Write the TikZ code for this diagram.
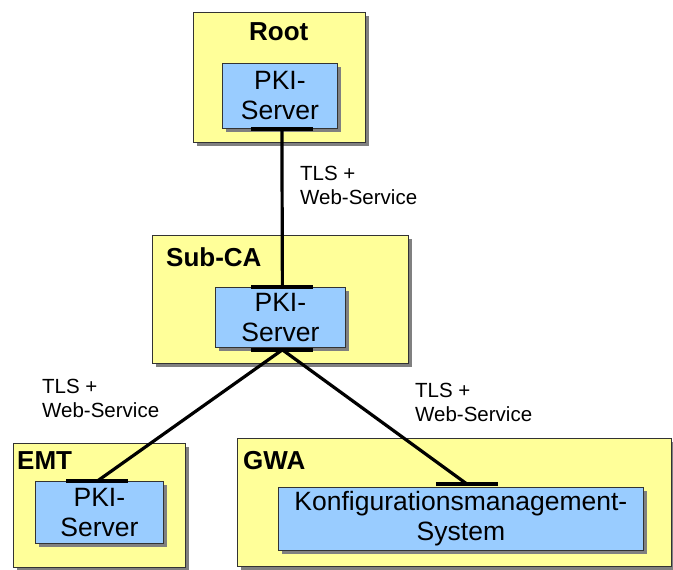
\documentclass[tikz,border=0pt]{standalone}
\usepackage{fontspec}
\setmainfont{Liberation Sans}
\usetikzlibrary{shadows,calc}
\definecolor{zoneyellow}{RGB}{255,255,153}
\definecolor{srvblue}{RGB}{153,204,255}
\definecolor{shadowgray}{RGB}{128,128,128}
\tikzset{
  zone/.style={draw=black!80, line width=0.8pt, fill=zoneyellow, anchor=north west,
    inner sep=0pt, drop shadow={shadow xshift=3.5pt, shadow yshift=-3.5pt, fill=shadowgray, opacity=1}},
  server/.style={draw=black!80, line width=0.8pt, fill=srvblue, anchor=north west,
    inner sep=0pt, align=center, font=\fontsize{26.5}{30}\selectfont,
    drop shadow={shadow xshift=3.5pt, shadow yshift=-3.5pt, fill=shadowgray, opacity=1}},
  zonetitle/.style={font=\fontsize{26}{30}\selectfont\bfseries, anchor=base west, inner sep=0pt},
  linklabel/.style={font=\fontsize{20.5}{24}\selectfont, align=left, anchor=north west, inner sep=0pt},
  bar/.style={line width=4pt},
  link/.style={line width=3.2pt},
}
\begin{document}
\begin{tikzpicture}[x=1pt, y=-1pt]
\useasboundingbox[fill=white] (0,0) rectangle (673,570);

% zones
\node[zone, minimum width=172pt, minimum height=130pt] (rootzone) at (193,12) {};
\node[zone, minimum width=256pt, minimum height=128pt] (subzone) at (152,235) {};
\node[zone, minimum width=172pt, minimum height=124pt] (emtzone) at (13,443) {};
\node[zone, minimum width=434pt, minimum height=128pt] (gwazone) at (237,438) {};

% zone titles
\node[zonetitle] (roottitle) at (249,40) {Root};
\node[zonetitle] (subtitle) at (166,266) {Sub-CA};
\node[zonetitle] (emttitle) at (17,469) {EMT};
\node[zonetitle] (gwatitle) at (243,469) {GWA};

% servers
\node[server, minimum width=115pt, minimum height=65pt] (rootpki) at (222,63) {PKI-\\Server};
\node[server, minimum width=130pt, minimum height=60pt] (subpki) at (215,287) {PKI-\\Server};
\node[server, minimum width=128pt, minimum height=62pt] (emtpki) at (35,481) {PKI-\\Server};
\node[server, minimum width=365pt, minimum height=63pt] (gwakms) at (278,487) {Konfigurationsmanagement-\\System};

% connection points
\coordinate (rootport) at ($(rootpki.south)+(2,0)$);
\coordinate (subtop) at ($(subpki.north)+(2,0)$);
\coordinate (subbot) at ($(subpki.south)+(2,2)$);
\coordinate (emtport) at ($(emtpki.north)+(-2,0)$);
\coordinate (gwaport) at ($(gwakms.north)+(6,-3)$);

% links
\draw[link] (rootport) -- (subtop);
\draw[link] (subbot) -- (emtport);
\draw[link] (subbot) -- (gwaport);

% ports
\draw[bar] ($(rootport)+(-31,0)$) -- ($(rootport)+(31,0)$);
\draw[bar] ($(subtop)+(-31,0)$) -- ($(subtop)+(31,0)$);
\draw[bar] ($(subbot)+(-31,0)$) -- ($(subbot)+(31,0)$);
\draw[bar] ($(emtport)+(-31,0)$) -- ($(emtport)+(31,0)$);
\draw[bar] ($(gwaport)+(-31,0)$) -- ($(gwaport)+(31,0)$);

% link labels
\node[linklabel] (lbl1) at (300,166) {TLS +\\Web-Service};
\node[linklabel] (lbl2) at (42,379) {TLS +\\Web-Service};
\node[linklabel] (lbl3) at (415,383) {TLS +\\Web-Service};
\end{tikzpicture}
\end{document}
